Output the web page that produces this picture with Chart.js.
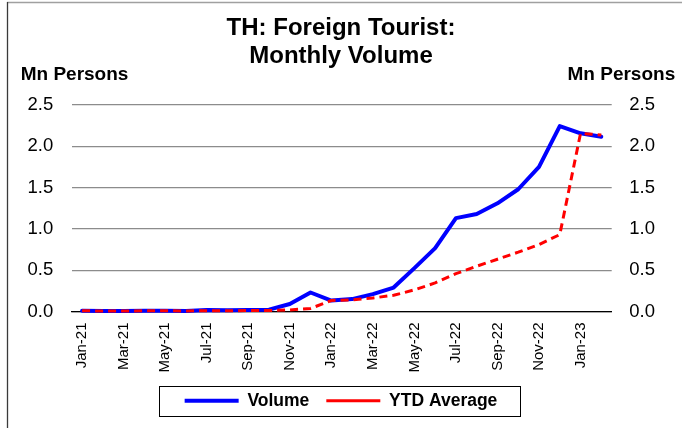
<!DOCTYPE html>
<html>
<head>
<meta charset="utf-8">
<script src="https://cdn.jsdelivr.net/npm/chart.js@4/dist/chart.umd.min.js"></script>
<style>
  html, body { margin: 0; padding: 0; background: #fff; }
  canvas { display: block; }
</style>
</head>
<body>
<canvas id="c" width="682" height="428"></canvas>
<script>
// Monthly foreign tourist arrivals to Thailand, million persons
const months = [
  'Jan-21','Feb-21','Mar-21','Apr-21','May-21','Jun-21','Jul-21','Aug-21','Sep-21','Oct-21','Nov-21','Dec-21',
  'Jan-22','Feb-22','Mar-22','Apr-22','May-22','Jun-22','Jul-22','Aug-22','Sep-22','Oct-22','Nov-22','Dec-22',
  'Jan-23','Feb-23'
];
const volume = [
  0.008, 0.006, 0.007, 0.009, 0.008, 0.005, 0.018, 0.016, 0.019, 0.022, 0.091, 0.230,
  0.133, 0.150, 0.210, 0.290, 0.525, 0.767, 1.130, 1.180, 1.310, 1.480, 1.750, 2.245,
  2.157, 2.116
];
const ytdAverage = [
  0.008, 0.007, 0.007, 0.008, 0.008, 0.007, 0.009, 0.010, 0.011, 0.012, 0.019, 0.037,
  0.133, 0.142, 0.164, 0.196, 0.262, 0.346, 0.458, 0.548, 0.633, 0.718, 0.811, 0.931,
  2.157, 2.137
];
const yTicks = [0, 0.5, 1.0, 1.5, 2.0, 2.5];
const titleLines = ['TH: Foreign Tourist:', 'Monthly Volume'];
const unitLabel = 'Mn Persons';

const FONT = '"Liberation Sans", Arial, Helvetica, sans-serif';

// Outer frame, unit captions above both value axes, and the box round the legend
const decorations = {
  id: 'decorations',
  afterDraw(chart) {
    const { ctx, chartArea: a } = chart;
    ctx.save();
    ctx.lineWidth = 1.3;
    ctx.strokeStyle = '#a0a0a0';
    ctx.beginPath(); ctx.moveTo(7, 2.5); ctx.lineTo(chart.width, 2.5); ctx.stroke();
    ctx.strokeStyle = '#3a3a3a';
    ctx.beginPath(); ctx.moveTo(7.5, 2); ctx.lineTo(7.5, chart.height); ctx.stroke();

    ctx.fillStyle = '#000';
    ctx.font = 'bold 19px ' + FONT;
    ctx.textBaseline = 'middle';
    ctx.textAlign = 'left';
    ctx.fillText(unitLabel, a.left - 51, a.top - 30);
    ctx.textAlign = 'right';
    ctx.fillText(unitLabel, a.right + 63.5, a.top - 30);

    const hb = chart.legend.legendHitBoxes;
    if (hb && hb.length) {
      const first = hb[0], last = hb[hb.length - 1];
      const cy = first.top + first.height / 2;
      const x0 = first.left - 26, x1 = last.left + last.width + 22;
      ctx.strokeStyle = '#000';
      ctx.lineWidth = 1;
      ctx.strokeRect(Math.round(x0) + 0.5, Math.round(cy - 15) + 0.5, Math.round(x1 - x0), 30);
    }
    ctx.restore();
  }
};

new Chart(document.getElementById('c'), {
  type: 'line',
  data: {
    labels: months,
    datasets: [
      {
        label: 'Volume',
        data: volume,
        yAxisID: 'y',
        borderColor: '#0000ff',
        backgroundColor: '#0000ff',
        borderWidth: 4,
        borderJoinStyle: 'round',
        borderCapStyle: 'round',
        pointRadius: 0,
        tension: 0,
        clip: false,
        order: 2
      },
      {
        label: 'YTD Average',
        data: ytdAverage,
        yAxisID: 'y',
        borderColor: '#ff0000',
        backgroundColor: '#ff0000',
        borderWidth: 3,
        borderDash: [8, 5],
        borderCapStyle: 'butt',
        borderJoinStyle: 'round',
        pointRadius: 0,
        tension: 0,
        clip: false,
        order: 1
      }
    ]
  },
  options: {
    responsive: false,
    animation: false,
    devicePixelRatio: 1,
    layout: { padding: { top: 0, left: 0, right: 0, bottom: 8.5 } },
    plugins: {
      title: {
        display: true,
        text: titleLines,
        color: '#000',
        font: { family: FONT, size: 24, weight: 'bold', lineHeight: 1.15 },
        padding: { top: 14.5, bottom: 35.3 }
      },
      legend: {
        position: 'bottom',
        labels: {
          color: '#000',
          font: { family: FONT, size: 17.5, weight: 'bold' },
          usePointStyle: true,
          pointStyle: 'line',
          pointStyleWidth: 54,
          padding: 17,
          sort: (a, b) => a.datasetIndex - b.datasetIndex
        }
      },
      tooltip: { enabled: false }
    },
    scales: {
      x: {
        type: 'category',
        offset: true,
        grid: { display: false, drawTicks: false },
        border: { display: true, color: '#000', width: 1.3 },
        ticks: {
          color: '#000',
          font: { family: FONT, size: 15 },
          autoSkip: false,
          maxRotation: 90,
          minRotation: 90,
          padding: 11,
          callback: (v, i) => (i % 2 === 0 ? months[i] : '')
        },
        afterFit: s => { s.height = 63.5; }
      },
      y: {
        position: 'left',
        min: 0,
        max: 2.5,
        afterBuildTicks: s => { s.ticks = yTicks.map(v => ({ value: v })); },
        grid: { color: '#8c8c8c', lineWidth: 1.3, drawTicks: false },
        border: { display: false },
        ticks: {
          color: '#000',
          font: { family: FONT, size: 18.5 },
          padding: 18.4,
          callback: v => Number(v).toFixed(1)
        },
        afterFit: s => { s.width = 71.7; }
      },
      y2: {
        position: 'right',
        min: 0,
        max: 2.5,
        afterBuildTicks: s => { s.ticks = yTicks.map(v => ({ value: v })); },
        grid: { display: false, drawTicks: false },
        border: { display: false },
        ticks: {
          color: '#000',
          font: { family: FONT, size: 18.5 },
          padding: 17.6,
          callback: v => Number(v).toFixed(1)
        },
        afterFit: s => { s.width = 70.3; }
      }
    }
  },
  plugins: [decorations]
});
</script>
</body>
</html>
